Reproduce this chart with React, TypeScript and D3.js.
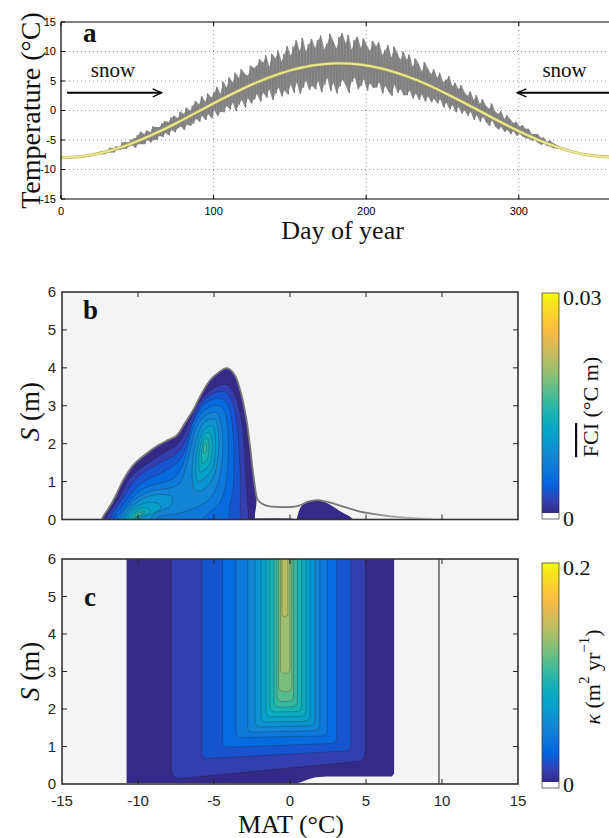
import React from 'react';
import * as d3 from 'd3';

// ---------------- Panel a: temperature ----------------
const dayTicks = [0, 100, 200, 300];
const gridDays = [100, 200, 300];
const tempTicks = [-15, -10, -5, 0, 5, 10, 15];
const gridTemps = [-10, -5, 0, 5, 10];
const sampleStartDay = 26;
const sampleStepDays = 2;
const tempHigh = [
  -6.9, -6.9, -6.7, -6.3, -6.4, -6.1, -6.2, -5.4, -5.4, -5.4,
  -4.9, -4.7, -4.2, -3.6, -4.0, -3.4, -3.7, -2.7, -2.8, -2.8,
  -2.2, -1.8, -2.0, -1.2, -0.9, -1.3, -0.2, -0.6, 0.5, -0.1,
  0.8, 1.6, 1.0, 2.4, 1.5, 2.9, 2.2, 3.1, 4.0, 2.8,
  4.9, 3.9, 5.6, 4.8, 6.4, 5.5, 7.0, 6.2, 5.9, 7.6,
  7.2, 7.6, 8.7, 8.1, 9.4, 7.4, 9.6, 8.8, 10.2, 8.3,
  9.6, 10.9, 9.3, 10.8, 11.9, 10.1, 12.3, 10.0, 11.2, 12.1,
  10.6, 11.9, 12.7, 10.4, 11.3, 13.0, 11.8, 10.5, 12.4, 13.1,
  11.4, 12.8, 10.3, 11.9, 12.5, 10.6, 12.2, 11.0, 10.1, 11.8,
  10.9, 11.6, 9.4, 10.2, 11.1, 9.0, 10.8, 9.7, 8.6, 10.0,
  8.6, 9.5, 7.4, 8.8, 7.9, 6.6, 8.2, 7.1, 6.2, 7.0,
  5.6, 6.4, 4.8, 5.2, 5.8, 4.1, 4.7, 3.6, 4.3, 3.1,
  2.5, 3.2, 1.8, 2.6, 1.1, 1.9, 0.8, 0.3, 1.2, -0.1,
  -0.6, -0.1, -1.4, -0.8, -1.5, -2.1, -1.9, -2.7, -2.5, -3.1,
  -3.1, -4.0, -4.0, -4.0, -4.6, -4.6, -5.3, -5.1, -5.5, -5.8,
  -6.0, -6.3,
];
const tempLow = [
  -7.4, -7.4, -7.1, -7.1, -7.1, -6.7, -6.7, -6.5, -6.5, -6.1,
  -5.9, -6.3, -5.7, -5.7, -5.7, -5.0, -5.4, -5.0, -5.0, -4.3,
  -4.5, -3.8, -4.2, -3.3, -3.7, -3.0, -2.7, -3.3, -2.4, -2.6,
  -2.2, -1.4, -1.9, -0.9, -1.6, -0.6, -1.3, 0.0, -0.9, -0.2,
  -0.3, 0.8, 0.2, 1.3, -0.1, 1.0, 1.8, 0.5, 2.1, 1.2,
  1.9, 2.8, 1.5, 3.0, 2.2, 3.6, 1.8, 2.9, 3.9, 2.4,
  3.4, 2.7, 4.4, 3.0, 4.8, 2.8, 3.9, 5.1, 3.5, 4.2,
  3.6, 5.0, 3.1, 4.4, 5.5, 3.3, 4.7, 2.9, 4.1, 5.2,
  4.3, 3.0, 4.9, 5.6, 3.6, 4.2, 5.3, 3.4, 4.6, 3.8,
  3.9, 4.8, 2.9, 4.2, 3.2, 2.5, 4.4, 3.0, 3.6, 2.6,
  2.6, 3.4, 2.0, 2.9, 1.8, 2.7, 1.5, 2.4, 1.4, 2.0,
  1.2, 1.9, 0.5, 1.3, 0.2, 0.9, -0.3, 0.6, -0.5, 0.0,
  -0.9, -0.2, -1.6, -0.8, -1.9, -1.1, -2.0, -2.6, -1.7, -2.7,
  -3.2, -2.8, -3.6, -3.3, -4.0, -3.5, -4.3, -3.9, -4.4, -4.7,
  -4.8, -5.1, -5.0, -5.5, -5.8, -5.6, -6.0, -6.1, -6.4, -6.4,
  -6.5, -6.7,
];
const meanDays = [0, 15, 30, 45, 60, 75, 90, 105, 120, 135, 150, 165, 180, 195, 210, 225, 240, 255, 270, 285, 300, 315, 330, 345, 365];
const meanTemp = [-8.0, -7.74, -6.96, -5.72, -4.1, -2.22, -0.17, 1.88, 3.8, 5.47, 6.78, 7.64, 7.99, 7.82, 7.12, 5.95, 4.4, 2.53, 0.52, -1.55, -3.5, -5.22, -6.59, -7.55, -8.0];
const snowArrowLeft = [4, 66];
const snowArrowRight = [365, 299];
const snowArrowTemp = 3;
const snowLabelDays = [34, 330];
const snowLabelTemp = 5.75;

// ---------------- Panels b, c: shared axes ----------------
const matTicks = [-15, -10, -5, 0, 5, 10, 15];
const matInnerTicks = [-10, -5, 0, 5, 10];
const sTicks = [0, 1, 2, 3, 4, 5, 6];
const sInnerTicks = [1, 2, 3, 4, 5];

// ---------------- Panel b: FCI contours ----------------
const fciMax = 0.03;
const fciLevels = [0, 0.0015, 0.003, 0.0045, 0.006, 0.0075, 0.009, 0.0105, 0.012, 0.0135, 0.015];
const fciL0 = [
  [[-12.45, -0.2], [-12.35, 0.05], [-12.05, 0.25], [-11.5, 0.6], [-11.0, 1.02], [-10.3, 1.44], [-9.5, 1.72], [-8.7, 1.95], [-8.0, 2.1], [-7.45, 2.22], [-6.9, 2.55], [-6.35, 2.9], [-5.8, 3.33], [-5.25, 3.68], [-4.7, 3.88], [-4.15, 3.99], [-3.65, 3.82], [-3.2, 3.3], [-2.85, 2.6], [-2.62, 1.9], [-2.45, 1.3], [-2.3, 0.85], [-2.2, 0.5], [-2.3, 0.15], [-2.45, -0.2], [-7.5, -0.3]],
  [[0.4, -0.2], [0.5, 0.1], [0.7, 0.32], [1.0, 0.45], [1.5, 0.5], [2.0, 0.49], [2.5, 0.42], [3.0, 0.3], [3.5, 0.17], [4.1, 0.02], [4.25, -0.2], [2.3, -0.3]],
];
const fciSliver = [[-2.6, -0.2], [-2.55, 0.025], [-1.0, 0.03], [0.2, 0.025], [0.25, -0.2]];
const fciL1 = [
  [[-12.1, -0.2], [-12.0, 0.1], [-11.6, 0.35], [-11.2, 0.6], [-10.7, 1.0], [-10.0, 1.3], [-9.3, 1.5], [-8.6, 1.68], [-7.9, 1.85], [-7.35, 2.0], [-6.85, 2.35], [-6.2, 2.95], [-5.4, 3.35], [-4.6, 3.55], [-4.1, 3.55], [-3.6, 3.25], [-3.15, 2.5], [-2.98, 1.7], [-2.9, 1.0], [-2.82, 0.55], [-2.95, -0.2], [-7.5, -0.3]],
];
const fciL2 = [
  [[-11.85, -0.2], [-11.75, 0.1], [-11.35, 0.35], [-10.95, 0.6], [-10.4, 0.95], [-9.7, 1.22], [-8.9, 1.42], [-8.0, 1.6], [-7.3, 1.8], [-6.85, 2.1], [-6.4, 2.6], [-5.75, 3.1], [-4.9, 3.35], [-4.2, 3.35], [-3.75, 3.05], [-3.45, 2.4], [-3.35, 1.8], [-3.25, 1.0], [-3.28, 0.4], [-3.45, -0.2], [-7.5, -0.3]],
];
const fciL3 = [
  [[-11.6, -0.2], [-11.5, 0.1], [-11.1, 0.33], [-10.7, 0.55], [-10.1, 0.85], [-9.4, 1.05], [-8.6, 1.2], [-7.8, 1.38], [-7.2, 1.6], [-6.8, 1.95], [-6.45, 2.5], [-5.85, 2.95], [-5.0, 3.18], [-4.35, 3.15], [-3.95, 2.85], [-3.72, 2.1], [-3.7, 1.3], [-3.75, 0.8], [-3.95, 0.4], [-4.3, -0.2], [-8.0, -0.3]],
];
const fciL4 = [
  [[-11.4, -0.2], [-11.3, 0.1], [-10.9, 0.3], [-10.5, 0.5], [-9.85, 0.76], [-9.1, 0.9], [-8.3, 0.98], [-7.6, 1.1], [-7.05, 1.45], [-6.7, 1.95], [-6.35, 2.45], [-5.8, 2.82], [-5.0, 3.0], [-4.45, 2.95], [-4.15, 2.6], [-4.05, 1.85], [-4.2, 1.0], [-4.6, 0.45], [-5.4, 0.15], [-6.5, -0.2], [-9.0, -0.3]],
];
const fciL5 = [
  [[-11.2, -0.2], [-11.1, 0.12], [-10.7, 0.32], [-10.3, 0.48], [-9.6, 0.68], [-8.8, 0.78], [-8.0, 0.82], [-7.3, 0.93], [-6.9, 1.3], [-6.5, 1.95], [-6.15, 2.45], [-5.55, 2.75], [-4.85, 2.82], [-4.55, 2.55], [-4.42, 1.85], [-4.7, 1.0], [-5.3, 0.55], [-6.3, 0.3], [-7.5, 0.15], [-8.6, 0.08], [-9.4, -0.2]],
];
const fciL6 = [
  [[-4.95, 2.64], [-4.75, 2.42], [-4.7, 1.85], [-5.0, 1.15], [-5.6, 0.82], [-6.2, 0.75], [-6.42, 1.0], [-6.25, 1.95], [-5.6, 2.58]],
  [[-11.0, -0.2], [-10.9, 0.1], [-10.55, 0.3], [-10.1, 0.44], [-9.4, 0.6], [-8.5, 0.66], [-7.75, 0.6], [-7.9, 0.35], [-8.8, 0.18], [-9.8, -0.2]],
];
const fciL7 = [
  [[-5.1, 2.46], [-4.95, 2.28], [-4.92, 1.85], [-5.15, 1.3], [-6.05, 1.0], [-6.2, 1.25], [-6.04, 1.95], [-5.6, 2.4]],
  [[-10.85, -0.2], [-10.75, 0.1], [-10.4, 0.27], [-9.9, 0.38], [-9.3, 0.45], [-8.7, 0.42], [-8.5, 0.3], [-9.1, 0.15], [-9.9, 0.02], [-10.2, -0.2]],
];
const fciL8 = [
  [[-5.3, 2.3], [-5.17, 2.15], [-5.12, 1.85], [-5.3, 1.45], [-5.9, 1.25], [-6.0, 1.45], [-5.88, 1.95], [-5.6, 2.25]],
  [[-10.65, -0.1], [-10.55, 0.12], [-10.2, 0.25], [-9.7, 0.31], [-9.3, 0.28], [-9.2, 0.2], [-9.8, 0.08], [-10.3, 0.0]],
];
const fciL9 = [
  [[-5.45, 2.15], [-5.36, 2.05], [-5.33, 1.85], [-5.45, 1.58], [-5.75, 1.47], [-5.82, 1.62], [-5.76, 1.95], [-5.6, 2.12]],
  [[-10.45, 0.05], [-10.3, 0.15], [-9.9, 0.23], [-9.55, 0.21], [-9.85, 0.1], [-10.2, 0.05]],
];
const fciL10 = [
  [[-5.55, 2.03], [-5.49, 1.93], [-5.56, 1.76], [-5.66, 1.74], [-5.69, 1.88]],
  [[-10.25, 0.1], [-9.95, 0.18], [-9.7, 0.17], [-9.95, 0.1]],
];
const fciContours = [fciL0, fciL1, fciL2, fciL3, fciL4, fciL5, fciL6, fciL7, fciL8, fciL9, fciL10];
const envelopeB = [[-12.35, 0.0], [-12.3, 0.07], [-12.0, 0.25], [-11.5, 0.6], [-11.0, 1.02], [-10.3, 1.44], [-9.5, 1.72], [-8.7, 1.95], [-8.0, 2.1], [-7.45, 2.22], [-6.9, 2.55], [-6.35, 2.9], [-5.8, 3.33], [-5.25, 3.68], [-4.7, 3.88], [-4.15, 3.99], [-3.65, 3.82], [-3.2, 3.3], [-2.85, 2.6], [-2.62, 1.9], [-2.45, 1.3], [-2.3, 0.85], [-2.2, 0.6], [-2.08, 0.5], [-1.86, 0.42], [-1.43, 0.35], [-0.66, 0.33], [0.11, 0.33], [0.66, 0.37], [1.2, 0.47], [1.76, 0.51], [2.41, 0.47], [3.51, 0.34], [4.61, 0.21], [5.26, 0.16], [6.47, 0.09], [8.0, 0.04], [9.4, 0.02]];

// ---------------- Panel c: kappa contours ----------------
const kappaMax = 0.2;
const kappaOuter = [[-10.75, 6.2], [-10.75, 0.03], [0.45, 0.02], [0.8, 0.06], [1.2, 0.13], [1.7, 0.18], [2.4, 0.2], [6.7, 0.2], [6.85, 0.28], [6.85, 6.2]];
const kappaLevels = [0.01, 0.02, 0.03, 0.04, 0.05, 0.06, 0.07, 0.08, 0.09, 0.1, 0.11, 0.12, 0.13, 0.14];
const kappaLeft = [-7.8, -5.8, -4.43, -3.55, -2.78, -2.3, -1.91, -1.58, -1.32, -1.05, -0.86, -0.74, -0.63, -0.53];
const kappaRight = [4.95, 4.0, 3.07, 2.45, 1.97, 1.64, 1.32, 1.05, 0.77, 0.48, 0.24, 0.12, 0.0, -0.14];
const kappaBottomL = [0.15, 0.68, 0.98, 1.24, 1.38, 1.52, 1.65, 1.79, 1.92, 2.05, 2.2, 2.46, 2.95, 4.46];
const kappaBottomR = [0.6, 0.88, 1.08, 1.28, 1.42, 1.55, 1.67, 1.8, 1.93, 2.06, 2.2, 2.46, 2.95, 4.46];
const envelopeC = [[9.8, 0], [9.8, 6]];

// ---------------- colormap (parula) ----------------
const parulaPos = [0, 0.0635, 0.127, 0.19, 0.254, 0.317, 0.381, 0.444, 0.508, 0.571, 0.635, 0.698, 0.762, 0.825, 0.889, 0.952, 1];
const parulaColors = ['#352a87', '#3243ba', '#0363e1', '#0d75dc', '#1485d4', '#0998d1', '#06a7c6', '#15b1b4', '#38b99e', '#65be86', '#92bf73', '#b7bd64', '#d9ba56', '#f8bb44', '#fcce2e', '#f5e41d', '#f9fb0e'];

const SERIF = '"Liberation Serif", "Times New Roman", serif';
const SANS = '"Liberation Sans", Arial, sans-serif';

export default function App() {
  const parula = d3.scaleLinear<string>().domain(parulaPos).range(parulaColors).interpolate(d3.interpolateRgb).clamp(true);

  const xA = d3.scaleLinear().domain([0, 365]).range([61, 618]);
  const yA = d3.scaleLinear().domain([-15, 15]).range([199, 22]);
  const xM = d3.scaleLinear().domain([-15, 15]).range([62, 518]);
  const yB = d3.scaleLinear().domain([0, 6]).range([519.5, 292]);
  const yC = d3.scaleLinear().domain([0, 6]).range([784, 559]);

  const lineA = d3.line<number[]>().x((p) => xA(p[0])).y((p) => yA(p[1]));
  const noisePts: number[][] = [];
  tempHigh.forEach((h, i) => {
    const d = sampleStartDay + i * sampleStepDays;
    noisePts.push([d, h], [d + 1, tempLow[i]]);
  });
  const noiseBand = tempHigh.map((h, i) => [sampleStartDay + i * sampleStepDays + 0.5, tempLow[i], h]);
  const areaA = d3.area<number[]>().x((p) => xA(p[0])).y0((p) => yA(p[1])).y1((p) => yA(p[2]));
  const meanPts = meanDays.map((d, i) => [d, meanTemp[i]]);
  const meanLine = d3.line<number[]>().x((p) => xA(p[0])).y((p) => yA(p[1])).curve(d3.curveNatural);

  const polyB = d3.line<number[]>().x((p) => xM(p[0])).y((p) => yB(p[1])).curve(d3.curveCatmullRomClosed.alpha(0.5));
  const linB = d3.line<number[]>().x((p) => xM(p[0])).y((p) => yB(p[1]));
  const envLineB = d3.line<number[]>().x((p) => xM(p[0])).y((p) => yB(p[1])).curve(d3.curveCatmullRom.alpha(0.5));
  const linC = d3.line<number[]>().x((p) => xM(p[0])).y((p) => yC(p[1]));

  const uShape = (k: number, closed: boolean) => {
    const x0 = xM(kappaLeft[k]);
    const x1 = xM(kappaRight[k]);
    const yb0 = yC(kappaBottomL[k]);
    const yb1 = yC(kappaBottomR[k]);
    const yt = yC(6) - 3;
    const rad = Math.min(k === 0 ? 9 : 6, (x1 - x0) / 2);
    let p = `M${x0},${yt} L${x0},${yb0 - rad} Q${x0},${yb0} ${x0 + rad},${yb0} L${x1 - rad},${yb1} Q${x1},${yb1} ${x1},${yb1 - rad} L${x1},${yt}`;
    if (closed) p += ' Z';
    return p;
  };

  const frameB = { x: xM(-15), y: yB(6), w: xM(15) - xM(-15), h: yB(0) - yB(6) };
  const frameC = { x: xM(-15), y: yC(6), w: xM(15) - xM(-15), h: yC(0) - yC(6) };
  const axisDark = '#262626';

  const renderMatAxes = (yS: d3.ScaleLinear<number, number>, showXLabels: boolean) => (
    <g>
      {matInnerTicks.map((t) => (
        <g key={'xt' + t}>
          <line x1={xM(t)} x2={xM(t)} y1={yS(0)} y2={yS(0) - 5} stroke={axisDark} strokeWidth={1} />
          <line x1={xM(t)} x2={xM(t)} y1={yS(6)} y2={yS(6) + 5} stroke={axisDark} strokeWidth={1} />
        </g>
      ))}
      {sInnerTicks.map((t) => (
        <g key={'yt' + t}>
          <line x1={xM(-15)} x2={xM(-15) + 5} y1={yS(t)} y2={yS(t)} stroke={axisDark} strokeWidth={1} />
          <line x1={xM(15)} x2={xM(15) - 5} y1={yS(t)} y2={yS(t)} stroke={axisDark} strokeWidth={1} />
        </g>
      ))}
      {sTicks.map((t) => (
        <text key={'yl' + t} x={56} y={yS(t)} dy="0.35em" textAnchor="end" fontFamily={SANS} fontSize={15} fill={axisDark}>{t}</text>
      ))}
      {showXLabels && matTicks.map((t) => (
        <text key={'xl' + t} x={xM(t)} y={806} textAnchor="middle" fontFamily={SANS} fontSize={15} fill={axisDark}>{t}</text>
      ))}
    </g>
  );

  const gradientStops = d3.range(0, 1.0001, 0.02).map((t) => ({ t, c: parula(t) }));

  return (
    <svg width={609} height={838} style={{ position: 'absolute', left: 0, top: 0, background: '#fff' }}>
      <defs>
        <clipPath id="clipA"><rect x={61} y={22} width={548} height={177} /></clipPath>
        <clipPath id="clipB"><rect x={frameB.x} y={frameB.y} width={frameB.w} height={frameB.h} /></clipPath>
        <clipPath id="clipC"><rect x={frameC.x} y={frameC.y} width={frameC.w} height={frameC.h} /></clipPath>
        <linearGradient id="cbar" x1="0" y1="1" x2="0" y2="0">
          {gradientStops.map((s) => (
            <stop key={s.t} offset={s.t} stopColor={s.c} />
          ))}
        </linearGradient>
        <linearGradient id="envFade" gradientUnits="userSpaceOnUse" x1={xM(5)} y1={0} x2={xM(9.5)} y2={0}>
          <stop offset={0} stopColor="#777" />
          <stop offset={1} stopColor="#d8d8d8" />
        </linearGradient>
      </defs>

      {/* ================= Panel a ================= */}
      <g>
        {gridDays.map((d) => (
          <line key={'gd' + d} x1={xA(d)} x2={xA(d)} y1={yA(15)} y2={yA(-15)} stroke="#777" strokeWidth={0.8} strokeDasharray="1,3" />
        ))}
        {gridTemps.map((t) => (
          <line key={'gt' + t} x1={xA(0)} x2={609} y1={yA(t)} y2={yA(t)} stroke="#777" strokeWidth={0.8} strokeDasharray="1,3" />
        ))}
        <g clipPath="url(#clipA)">
          <path d={areaA(noiseBand) || ''} fill="#8c8c8c" stroke="none" />
          <path d={lineA(noisePts) || ''} fill="none" stroke="#7d7d7d" strokeWidth={1} />
          <path d={meanLine(meanPts) || ''} fill="none" stroke="#b9b65a" strokeWidth={3} />
          <path d={meanLine(meanPts) || ''} fill="none" stroke="#ebe995" strokeWidth={1.8} />
        </g>
        <line x1={xA(0)} x2={609} y1={yA(15)} y2={yA(15)} stroke="#000" strokeWidth={1.2} />
        <line x1={xA(0)} x2={609} y1={yA(-15)} y2={yA(-15)} stroke="#000" strokeWidth={1.2} />
        <line x1={xA(0)} x2={xA(0)} y1={yA(15)} y2={yA(-15)} stroke="#000" strokeWidth={1.2} />
        {tempTicks.map((t) => (
          <g key={'at' + t}>
            <line x1={xA(0)} x2={xA(0) + 4} y1={yA(t)} y2={yA(t)} stroke="#000" strokeWidth={1} />
            <text x={56} y={yA(t)} dy="0.36em" textAnchor="end" fontFamily={SANS} fontSize={11} fill="#000">{t}</text>
          </g>
        ))}
        {dayTicks.map((d) => (
          <g key={'ad' + d}>
            <line x1={xA(d)} x2={xA(d)} y1={yA(-15)} y2={yA(-15) - 4} stroke="#000" strokeWidth={1} />
            <line x1={xA(d)} x2={xA(d)} y1={yA(15)} y2={yA(15) + 4} stroke="#000" strokeWidth={1} />
            <text x={xA(d)} y={215} textAnchor="middle" fontFamily={SANS} fontSize={11} fill="#000">{d}</text>
          </g>
        ))}
        <g clipPath="url(#clipA)">
          <line x1={xA(snowArrowLeft[0])} x2={xA(snowArrowLeft[1])} y1={yA(snowArrowTemp)} y2={yA(snowArrowTemp)} stroke="#000" strokeWidth={2} />
          <path d={`M${xA(snowArrowLeft[1]) - 9},${yA(snowArrowTemp) - 4} L${xA(snowArrowLeft[1])},${yA(snowArrowTemp)} L${xA(snowArrowLeft[1]) - 9},${yA(snowArrowTemp) + 4}`} fill="none" stroke="#000" strokeWidth={1.3} />
          <line x1={xA(snowArrowRight[0])} x2={xA(snowArrowRight[1])} y1={yA(snowArrowTemp)} y2={yA(snowArrowTemp)} stroke="#000" strokeWidth={2} />
          <path d={`M${xA(snowArrowRight[1]) + 9},${yA(snowArrowTemp) - 4} L${xA(snowArrowRight[1])},${yA(snowArrowTemp)} L${xA(snowArrowRight[1]) + 9},${yA(snowArrowTemp) + 4}`} fill="none" stroke="#000" strokeWidth={1.3} />
        </g>
        {snowLabelDays.map((d) => (
          <text key={'sn' + d} x={xA(d)} y={yA(snowLabelTemp)} textAnchor="middle" fontFamily={SERIF} fontSize={21} fill="#111">snow</text>
        ))}
        <text x={83} y={42} fontFamily={SERIF} fontWeight="bold" fontSize={27} fill="#111">a</text>
        <text transform={`translate(30,${(yA(15) + yA(-15)) / 2}) rotate(-90)`} textAnchor="middle" dominantBaseline="central" fontFamily={SERIF} fontSize={28} fill="#111">Temperature (°C)</text>
        <text x={(xA(0) + xA(365)) / 2 + 3} y={239} textAnchor="middle" fontFamily={SERIF} fontSize={26} fill="#111">Day of year</text>
      </g>

      {/* ================= Panel b ================= */}
      <g>
        <rect x={frameB.x} y={frameB.y} width={frameB.w} height={frameB.h} fill="#f4f4f4" />
        <g clipPath="url(#clipB)">
          <path d={(linB(fciSliver) || '') + 'Z'} fill={parula(0)} />
          {fciContours.map((polys, k) =>
            polys.map((poly, j) => (
              <path key={`bf${k}-${j}`} d={polyB(poly) || ''} fill={parula(fciLevels[k] / fciMax)} stroke="none" />
            ))
          )}
          {fciContours.map((polys, k) =>
            k === 0 ? null : polys.map((poly, j) => (
              <path key={`bl${k}-${j}`} d={polyB(poly) || ''} fill="none" stroke="#1e1e1e" strokeOpacity={0.45} strokeWidth={0.6} />
            ))
          )}
          <path d={envLineB(envelopeB) || ''} fill="none" stroke="url(#envFade)" strokeWidth={1.8} />
        </g>
        <rect x={frameB.x} y={frameB.y} width={frameB.w} height={frameB.h} fill="none" stroke="#333" strokeWidth={1.6} />
        {renderMatAxes(yB, false)}
        <text x={83} y={319} fontFamily={SERIF} fontWeight="bold" fontSize={27} fill="#111">b</text>
        <text transform={`translate(30,${(yB(0) + yB(6)) / 2 + 6}) rotate(-90)`} textAnchor="middle" dominantBaseline="central" fontFamily={SERIF} fontSize={27} fill="#111">
          <tspan fontStyle="italic">S</tspan> (m)
        </text>
        <rect x={542} y={293} width={17} height={220} fill="url(#cbar)" />
        <rect x={542} y={513} width={17} height={6} fill="#fff" />
        <rect x={542} y={293} width={17} height={226} fill="none" stroke="#333" strokeWidth={0.7} />
        <text x={563} y={305} fontFamily={SERIF} fontSize={22} fill="#111">0.03</text>
        <text x={563} y={526} fontFamily={SERIF} fontSize={22} fill="#111">0</text>
        <text transform="translate(590,407) rotate(-90)" textAnchor="middle" dominantBaseline="central" fontFamily={SERIF} fontSize={22} fill="#111">
          <tspan style={{ textDecoration: 'overline' }}>FCI</tspan> (°C m)
        </text>
      </g>

      {/* ================= Panel c ================= */}
      <g>
        <rect x={frameC.x} y={frameC.y} width={frameC.w} height={frameC.h} fill="#f4f4f4" />
        <g clipPath="url(#clipC)">
          <path d={(linC(kappaOuter) || '') + 'Z'} fill={parula(0)} />
          {kappaLevels.map((lv, k) => (
            <path key={'cf' + k} d={uShape(k, true)} fill={parula(lv / kappaMax)} />
          ))}
          {kappaLevels.map((lv, k) => (
            <path key={'cl' + k} d={uShape(k, false)} fill="none" stroke="#1e1e1e" strokeOpacity={0.45} strokeWidth={0.6} />
          ))}
          <path d={linC(envelopeC) || ''} fill="none" stroke="#808080" strokeWidth={2} />
        </g>
        <rect x={frameC.x} y={frameC.y} width={frameC.w} height={frameC.h} fill="none" stroke="#333" strokeWidth={1.6} />
        {renderMatAxes(yC, true)}
        <text x={84} y={606} fontFamily={SERIF} fontWeight="bold" fontSize={27} fill="#111">c</text>
        <text transform={`translate(30,${(yC(0) + yC(6)) / 2}) rotate(-90)`} textAnchor="middle" dominantBaseline="central" fontFamily={SERIF} fontSize={27} fill="#111">
          <tspan fontStyle="italic">S</tspan> (m)
        </text>
        <text x={xM(0) + 1} y={833} textAnchor="middle" fontFamily={SERIF} fontSize={26} fill="#111">MAT (°C)</text>
        <rect x={542} y={563} width={17} height={219} fill="url(#cbar)" />
        <rect x={542} y={782} width={17} height={6} fill="#fff" />
        <rect x={542} y={563} width={17} height={225} fill="none" stroke="#333" strokeWidth={0.7} />
        <text x={563} y={575} fontFamily={SERIF} fontSize={22} fill="#111">0.2</text>
        <text x={563} y={792} fontFamily={SERIF} fontSize={22} fill="#111">0</text>
        <text transform="translate(592,677) rotate(-90)" textAnchor="middle" dominantBaseline="central" fontFamily={SERIF} fontSize={22} fill="#111">
          <tspan fontStyle="italic">κ</tspan>
          <tspan> (m</tspan>
          <tspan dy={-8} fontSize={15}>2</tspan>
          <tspan dy={8}> yr</tspan>
          <tspan dy={-8} fontSize={15}>−1</tspan>
          <tspan dy={8}>)</tspan>
        </text>
      </g>
    </svg>
  );
}
